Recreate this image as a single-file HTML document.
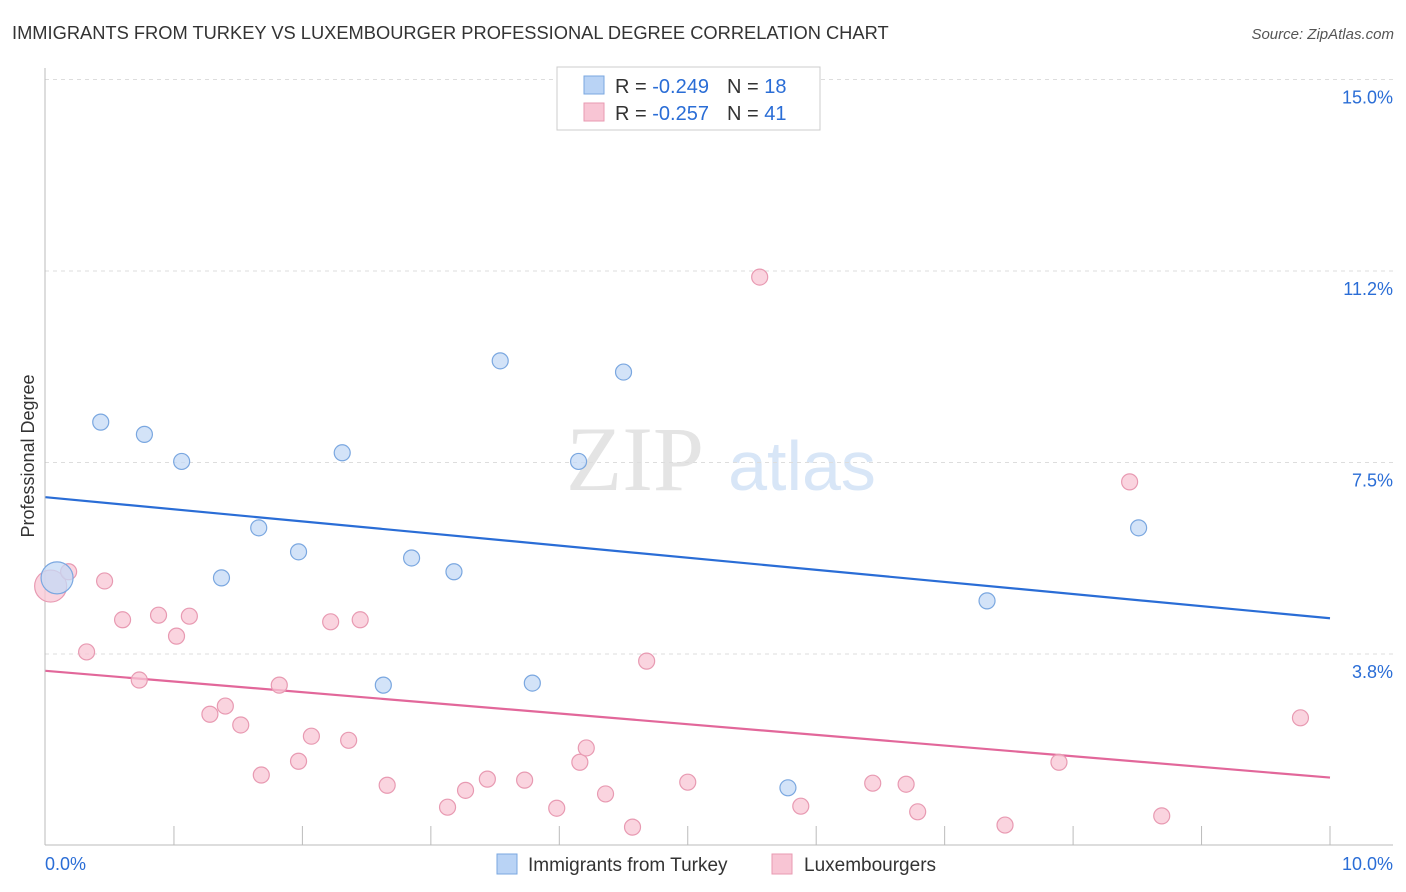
<!DOCTYPE html>
<html><head><meta charset="utf-8"><style>
body{margin:0;background:#fff;font-family:"Liberation Sans",sans-serif;}
svg{display:block}
</style></head><body>
<svg id="chart" width="1406" height="892" xmlns="http://www.w3.org/2000/svg">
<text x="12" y="39" font-size="18.3" fill="#333">IMMIGRANTS FROM TURKEY VS LUXEMBOURGER PROFESSIONAL DEGREE CORRELATION CHART</text>
<text x="1394" y="39" font-size="15" fill="#555" text-anchor="end" font-style="italic">Source: ZipAtlas.com</text>
<g>
<text x="635" y="490" font-size="92" fill="#e4e4e4" text-anchor="middle" font-family="Liberation Serif,serif">ZIP</text>
<text x="802" y="490" font-size="70" fill="#d8e6f7" text-anchor="middle">atlas</text>
</g>
<g id="grid"></g>
<g id="axes"></g>
<g id="lines"></g>
<g id="points"></g>
<text transform="translate(34,456) rotate(-90)" font-size="18" fill="#333" text-anchor="middle">Professional Degree</text>
<g>
<rect x="557" y="67" width="263" height="63" fill="#fff" stroke="#ccc"/>
<rect x="584" y="76" width="20" height="18" fill="#b9d3f5" stroke="#7aa7e0"/>
<rect x="584" y="103" width="20" height="18" fill="#f8c5d4" stroke="#e89ab2"/>
<text x="615" y="93" font-size="20" fill="#333">R = <tspan fill="#2a6dd6">-0.249</tspan><tspan dx="18">N = </tspan><tspan fill="#2a6dd6">18</tspan></text>
<text x="615" y="120" font-size="20" fill="#333">R = <tspan fill="#2a6dd6">-0.257</tspan><tspan dx="18">N = </tspan><tspan fill="#2a6dd6">41</tspan></text>
</g>
<g>
<rect x="497" y="854" width="20" height="20" fill="#b9d3f5" stroke="#7aa7e0"/>
<text x="528" y="871" font-size="19" fill="#333">Immigrants from Turkey</text>
<rect x="772" y="854" width="20" height="20" fill="#f8c5d4" stroke="#e89ab2"/>
<text x="804" y="871" font-size="19" fill="#333">Luxembourgers</text>
</g>
</svg>
<script>
const yTicks=[3.75,7.5,11.25,15];
const yTickLabels=["3.8%","7.5%","11.2%","15.0%"];
const xTickCount=[1,2,3,4,5,6,7,8,9,10];
const blueX=[0.09,0.43,0.77,1.06,1.37,1.66,1.97,2.31,2.63,2.85,3.18,3.54,3.79,4.15,4.50,5.78,7.33,8.51];
const blueY=[5.24,8.29,8.05,7.52,5.24,6.22,5.75,7.69,3.14,5.63,5.36,9.49,3.18,7.52,9.27,1.13,4.79,6.22];
const pinkX=[0.04,0.18,0.32,0.46,0.60,0.73,0.88,1.02,1.12,1.28,1.40,1.52,1.68,1.82,1.97,2.07,2.22,2.36,2.45,2.66,3.13,3.27,3.44,3.73,3.98,4.16,4.21,4.36,4.57,4.68,5.00,5.56,5.88,6.44,6.70,6.79,7.47,7.89,8.44,8.69,9.77];
const pinkY=[5.08,5.36,3.79,5.18,4.42,3.24,4.51,4.10,4.49,2.57,2.73,2.36,1.38,3.14,1.65,2.14,4.38,2.06,4.42,1.18,0.75,1.08,1.30,1.28,0.73,1.63,1.91,1.01,0.36,3.61,1.24,11.13,0.77,1.22,1.20,0.66,0.40,1.63,7.12,0.58,2.50];
const blueTrend=[6.82,4.45];
const pinkTrend=[3.42,1.33];
const NS="http://www.w3.org/2000/svg";
const X=v=>45.5+v*128.45, Y=v=>845.5-v*51.07;
function mk(tag,attrs,parent){const e=document.createElementNS(NS,tag);for(const k in attrs)e.setAttribute(k,attrs[k]);document.getElementById(parent).appendChild(e);return e;}
yTicks.forEach((t,i)=>{
 const g=mk('line',{x1:45,x2:1393,y1:Y(t),y2:Y(t),stroke:'#ddd','stroke-dasharray':'4,4'},'grid');
 
 
 const l=mk('text',{x:1393,y:Y(t)+24,'font-size':18,fill:'#2a6dd6','text-anchor':'end'},'axes');
 l.textContent=yTickLabels[i];
 
 
});
mk('line',{x1:45,x2:45,y1:68,y2:845,stroke:'#bbb'},'axes');
mk('line',{x1:45,x2:1393,y1:845,y2:845,stroke:'#bbb'},'axes');
xTickCount.forEach(t=>{const k=mk('line',{x1:X(t),x2:X(t),y1:826,y2:845,stroke:'#bbb'},'axes');
 
 });
const xl0=mk('text',{x:45,y:870,'font-size':18,fill:'#2a6dd6'},'axes');xl0.textContent='0.0%';


const xl1=mk('text',{x:1393,y:870,'font-size':18,fill:'#2a6dd6','text-anchor':'end'},'axes');xl1.textContent='10.0%';


function pts(xs,ys,fill,stroke,name){xs.forEach((x,i)=>{const c=mk('circle',{cx:X(x),cy:Y(ys[i]),r:i==0?16:8,fill:fill,stroke:stroke,'stroke-width':1.2,'fill-opacity':0.75},'points');
 
 });}
pts(pinkX,pinkY,'#f8c5d4','#e89ab2','luxembourger-point');
pts(blueX,blueY,'#c4daf6','#7aa7e0','turkey-point');
const bl=mk('line',{x1:X(0),y1:Y(blueTrend[0]),x2:X(10),y2:Y(blueTrend[1]),stroke:'#2a6dd6','stroke-width':2.2},'lines');


const pl=mk('line',{x1:X(0),y1:Y(pinkTrend[0]),x2:X(10),y2:Y(pinkTrend[1]),stroke:'#e2679a','stroke-width':2.2},'lines');


</script>
</body></html>
